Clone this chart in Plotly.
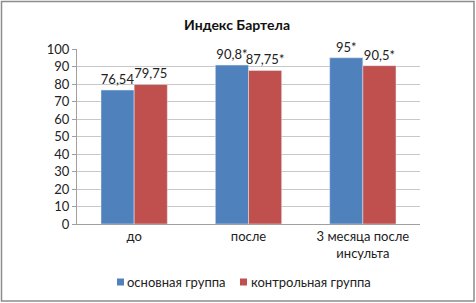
import plotly.graph_objects as go

categories = ["до", "после", "3 месяца после<br>инсульта"]
main_group = [76.54, 90.8, 95]
control_group = [79.75, 87.75, 90.5]
main_labels = ["76,54", "90,8*", "95*"]
control_labels = ["79,75", "87,75*", "90,5*"]
y_ticks = [0, 10, 20, 30, 40, 50, 60, 70, 80, 90, 100]
series_names = ["основная группа", "контрольная группа"]
colors = ["#4F81BD", "#C0504D"]

font_family = "Lato, Open Sans, sans-serif"

fig = go.Figure()
fig.add_trace(go.Bar(
    x=categories, y=main_group, name=series_names[0],
    marker_color=colors[0], text=main_labels, textposition="outside", constraintext="none",
    textfont=dict(size=13, color="#222222"), cliponaxis=False, showlegend=False,
))
fig.add_trace(go.Bar(
    x=categories, y=control_group, name=series_names[1],
    marker_color=colors[1], text=control_labels, textposition="outside", constraintext="none",
    textfont=dict(size=13, color="#222222"), cliponaxis=False, showlegend=False,
))

L, R, T, B = 77, 56, 49, 79
W, H = 476, 303
pw, ph = W - L - R, H - T - B

def px_x(p):
    return (p - L) / pw

def px_y(p):
    return (224 - p) / ph

shapes = [dict(type="rect", xref="paper", yref="paper",
               x0=px_x(1.5), x1=px_x(474), y0=px_y(301), y1=px_y(1.5),
               line=dict(color="#8c8c8c", width=1.5), fillcolor="rgba(0,0,0,0)", layer="below")]
annotations = []
legend_x = [(117, 125), (240, 249)]
for (sx, tx), name, col in zip(legend_x, series_names, colors):
    shapes.append(dict(type="rect", xref="paper", yref="paper",
                       x0=px_x(sx), x1=px_x(sx + 7), y0=px_y(285.5), y1=px_y(278.5),
                       line=dict(width=0), fillcolor=col))
    annotations.append(dict(text=name, xref="paper", yref="paper", x=px_x(tx), y=px_y(282),
                            xanchor="left", yanchor="middle", showarrow=False,
                            font=dict(size=13, color="#222222", family=font_family)))

fig.update_layout(
    width=W, height=H,
    margin=dict(l=L, r=R, t=T, b=B),
    paper_bgcolor="white", plot_bgcolor="white",
    font=dict(family=font_family, size=13, color="#222222"),
    title=dict(text="<b>Индекс Бартела</b>", xref="container", x=237 / W, xanchor="center",
               y=1 - 25 / H, yanchor="middle",
               font=dict(size=14, color="#111111")),
    barmode="group", bargap=0.42, bargroupgap=0,
    showlegend=False,
    shapes=shapes, annotations=annotations,
)
fig.update_yaxes(range=[0, 100], tickvals=y_ticks, showgrid=True, gridcolor="#c8c8c8", gridwidth=1,
                 showline=True, linecolor="#a0a0a0", ticks="outside", ticklen=4, tickcolor="#a0a0a0",
                 zeroline=False, tickfont=dict(size=13))
fig.update_xaxes(showline=True, linecolor="#a0a0a0", ticks="", tickfont=dict(size=13))

fig.write_html("out.html", config={"displayModeBar": False},
               post_script="document.body.style.margin='0';")
